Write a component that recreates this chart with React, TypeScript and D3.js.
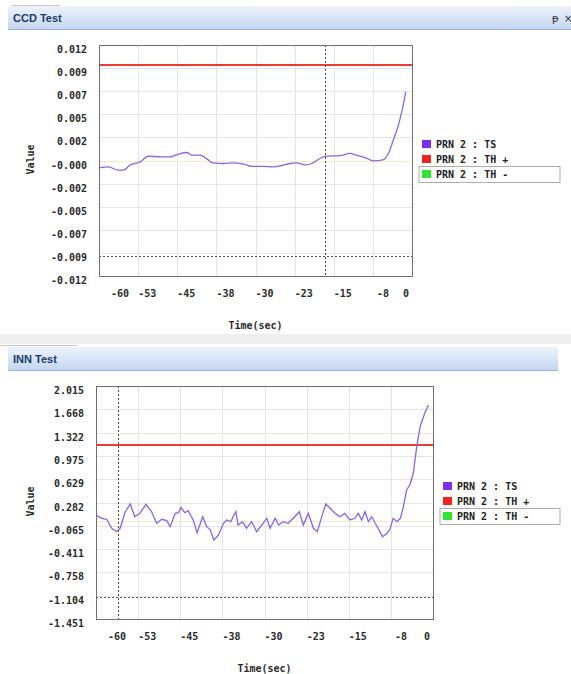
import React from "react";
import * as d3 from "d3";

// ---- CCD test series (time in seconds, test statistic) ----
const CCD_TIME = [-60, -58.2, -56.3, -55.3, -54.1, -52.1, -50.5, -48.3, -46.4, -44.8, -43.2, -42.2, -40.6, -39.4, -38.1, -36.2, -34.3, -32.3, -30.7, -28.5, -26.6, -25.0, -23.4, -22.1, -20.5, -19.2, -18.0, -16.4, -13.8, -11.9, -10.6, -9.0, -7.4, -5.8, -4.5, -3.6, -2.7, -1.9, -1.2];
const CCD_TS = [-0.00077, -0.00066, -0.001, -0.001, -0.00049, -0.00015, 0.00045, 0.00038, 0.00038, 0.00066, 0.00083, 0.00055, 0.00055, 0.0002, -0.00025, -0.00031, -0.00025, -0.00038, -0.0006, -0.0006, -0.00066, -0.00052, -0.00031, -0.00025, -0.00045, -0.00031, 0.0001, 0.00045, 0.0005, 0.00073, 0.00055, 0.00031, -0.00004, 0.00003, 0.00073, 0.0021, 0.0035, 0.0052, 0.0071];
const CCD_TH = 0.0099;
const CCD_CURSOR = -16.7;
const CCD_DOMAIN = [-0.012, 0.012];
const CCD_Y_LABELS = ["0.012", "0.009", "0.007", "0.005", "0.002", "-0.000", "-0.002", "-0.005", "-0.007", "-0.009", "-0.012"];

// ---- INN test series ----
const INN_TIME = [-60.0, -59.0, -58.1, -57.2, -56.3, -55.7, -54.8, -53.9, -53.1, -52.2, -51.1, -50.1, -49.2, -48.3, -47.4, -46.8, -45.9, -45.3, -44.9, -44.2, -43.6, -42.7, -42.0, -41.0, -40.3, -39.7, -39.0, -38.2, -37.3, -36.7, -36.0, -35.6, -35.1, -34.7, -33.9, -33.2, -32.3, -31.4, -30.5, -29.6, -29.0, -28.1, -27.5, -26.7, -25.8, -24.9, -23.8, -23.1, -22.2, -21.3, -20.6, -19.8, -19.1, -18.3, -17.4, -16.6, -15.7, -14.8, -13.9, -13.3, -12.7, -12.1, -11.5, -10.9, -10.3, -9.6, -9.0, -8.2, -7.7, -7.1, -6.4, -5.8, -5.3, -4.7, -4.1, -3.5, -2.9, -2.3, -1.4, -0.8];
const INN_TS = [0.096, 0.047, 0.032, -0.102, -0.152, -0.102, 0.145, 0.26, 0.071, 0.12, 0.255, 0.145, -0.027, 0.032, 0.012, -0.078, 0.12, 0.13, 0.21, 0.13, 0.16, 0.022, -0.167, 0.071, -0.078, -0.117, -0.276, -0.201, -0.027, 0.022, -0.003, 0.071, 0.145, -0.053, -0.003, -0.102, -0.003, -0.152, -0.053, 0.047, -0.102, 0.047, -0.053, -0.003, -0.027, 0.047, 0.145, -0.053, 0.12, -0.102, -0.152, 0.071, 0.26, 0.196, 0.12, 0.071, 0.12, 0.022, 0.047, 0.12, 0.022, 0.145, -0.003, 0.071, -0.027, -0.127, -0.226, -0.177, -0.127, 0.047, -0.003, 0.047, 0.21, 0.468, 0.55, 0.72, 1.11, 1.41, 1.63, 1.73];
const INN_TH = 1.13;
const INN_CURSOR = -56.1;
const INN_DOMAIN = [-1.451, 2.015];
const INN_Y_LABELS = ["2.015", "1.668", "1.322", "0.975", "0.629", "0.282", "-0.065", "-0.411", "-0.758", "-1.104", "-1.451"];

// ---- shared axis / legend text ----
const X_TICKS = [-60, -52.5, -45, -37.5, -30, -22.5, -15, -7.5, 0];
const X_LABELS = ["-60", "-53", "-45", "-38", "-30", "-23", "-15", "-8", "0"];
const LEGEND = ["PRN 2 : TS", "PRN 2 : TH +", "PRN 2 : TH -"];
const LEGEND_COLORS = ["#7b2ff2", "#f2231f", "#2fe62f"];

const MONO = "'DejaVu Sans Mono', 'Liberation Mono', monospace";

// snap a coordinate to a pixel centre so 1px rules stay crisp
const crisp = (v: number) => Math.round(v) + 0.5;

type PanelProps = {
  title: string;
  top: number; // y of the title bar
  barRight: number;
  box: { l: number; r: number; t: number; b: number };
  time: number[];
  values: number[];
  domain: number[];
  yLabels: string[];
  th: number;
  cursor: number;
  smooth: boolean;
  showIcons: boolean;
};

function Panel(p: PanelProps) {
  const { box } = p;
  const x = d3.scaleLinear().domain([-60, 0]).range([box.l, box.r]);
  const y = d3.scaleLinear().domain(p.domain).range([box.b, box.t]);
  const yTicks = p.yLabels.map((_, i) => p.domain[1] - (i * (p.domain[1] - p.domain[0])) / 10);
  const pts = p.time.map((t, i) => [t, p.values[i]] as [number, number]);
  const line = d3
    .line<[number, number]>()
    .x((d) => x(d[0]))
    .y((d) => y(d[1]))
    .curve(p.smooth ? d3.curveMonotoneX : d3.curveLinear);
  const midY = (box.t + box.b) / 2 - 1;
  const legX = box.r + 10;
  const thY = Math.round(y(p.th));

  return (
    <g>
      {/* title bar */}
      <rect x={8} y={p.top} width={p.barRight - 8} height={24} fill="url(#barGrad)" />
      <line x1={8} x2={p.barRight} y1={p.top + 23.5} y2={p.top + 23.5} stroke="#99b4dc" />
      <text x={13} y={p.top + 16} fontFamily="'Liberation Sans', Arial, sans-serif" fontWeight="bold" fontSize={11} fill="#1b3a6b">
        {p.title}
      </text>
      {p.showIcons && (
        <g fontFamily="'DejaVu Sans', sans-serif" fontSize={10} fill="#333">
          <text x={552} y={p.top + 16}>ᵽ</text>
          <text x={564} y={p.top + 16}>×</text>
        </g>
      )}

      {/* grid */}
      {X_TICKS.slice(1, -1).map((t) => (
        <line key={"gx" + t} x1={crisp(x(t))} x2={crisp(x(t))} y1={box.t} y2={box.b} stroke="#e4e4e4" />
      ))}
      {yTicks.slice(1, -1).map((v, i) => (
        <line key={"gy" + i} x1={box.l} x2={box.r} y1={crisp(y(v))} y2={crisp(y(v))} stroke="#e4e4e4" />
      ))}
      <line x1={box.l} x2={box.r} y1={crisp(y(0))} y2={crisp(y(0))} stroke="#f4ecc4" />

      {/* thresholds and cursor */}
      <line x1={box.l} x2={box.r} y1={thY} y2={thY} stroke="#ee3a36" strokeWidth={2} />
      <line x1={box.l} x2={box.r} y1={crisp(y(-p.th))} y2={crisp(y(-p.th))} stroke="#555" strokeDasharray="2,2" />
      <line x1={crisp(x(p.cursor))} x2={crisp(x(p.cursor))} y1={box.t} y2={box.b} stroke="#444" strokeDasharray="2,2" />

      {/* test statistic */}
      <path d={line(pts) ?? ""} fill="none" stroke="#8c63e6" strokeWidth={1.3} />

      {/* frame */}
      <rect x={box.l + 0.5} y={box.t + 0.5} width={box.r - box.l} height={box.b - box.t} fill="none" stroke="#6e6e6e" />

      {/* axis labels */}
      <g fontFamily={MONO} fontWeight="bold" fontSize={10} fill="#2a2a2a">
        {yTicks.map((v, i) => (
          <text key={"yl" + i} x={box.l - 12} y={y(v) + 8} textAnchor="end">
            {p.yLabels[i]}
          </text>
        ))}
        {X_TICKS.map((t, i) => {
          const last = i === X_TICKS.length - 1;
          const first = i === 0;
          const tx = first ? x(t) + 12 : last ? x(t) - 3 : i === X_TICKS.length - 2 ? x(t) + 4 : x(t);
          return (
            <text key={"xl" + i} x={tx} y={box.b + 21} textAnchor={last ? "end" : "start"}>
              {X_LABELS[i]}
            </text>
          );
        })}
        <text x={(box.l + box.r) / 2} y={box.b + 53} textAnchor="middle">
          Time(sec)
        </text>
        <text transform={`translate(34,${midY}) rotate(-90)`} textAnchor="middle">
          Value
        </text>
      </g>

      {/* legend */}
      <g fontFamily={MONO} fontWeight="bold" fontSize={10} fill="#222">
        {LEGEND.map((name, i) => {
          const cy = midY - 15 + i * 15;
          return (
            <g key={name}>
              <rect x={legX} y={cy - 4.5} width={9} height={8} fill={LEGEND_COLORS[i]} />
              <text x={legX + 14} y={cy + 3.5}>
                {name}
              </text>
            </g>
          );
        })}
        <rect x={legX - 3} y={midY + 15 - 8} width={560 - (legX - 3)} height={16} fill="none" stroke="#9a9a9a" strokeWidth={0.8} />
      </g>
    </g>
  );
}

export default function App() {
  return (
    <svg width={571} height={674} style={{ position: "absolute", left: 0, top: 0, background: "#fff" }}>
      <defs>
        <linearGradient id="barGrad" x1="0" y1="0" x2="0" y2="1">
          <stop offset="0" stopColor="#eef3fb" />
          <stop offset="1" stopColor="#c3d5f0" />
        </linearGradient>
      </defs>
      <rect width={571} height={674} fill="#fff" />
      <line x1={12} x2={60} y1={5.5} y2={5.5} stroke="#c8c8c8" />
      <rect x={0} y={334} width={571} height={10} fill="#efefef" />
      <line x1={0} x2={77} y1={345.5} y2={345.5} stroke="#c8c8c8" />
      <Panel
        title="CCD Test"
        top={6}
        barRight={571}
        box={{ l: 99, r: 412, t: 45, b: 276 }}
        time={CCD_TIME}
        values={CCD_TS}
        domain={CCD_DOMAIN}
        yLabels={CCD_Y_LABELS}
        th={CCD_TH}
        cursor={CCD_CURSOR}
        smooth={true}
        showIcons={true}
      />
      <Panel
        title="INN Test"
        top={347}
        barRight={558}
        box={{ l: 96, r: 433, t: 386, b: 619 }}
        time={INN_TIME}
        values={INN_TS}
        domain={INN_DOMAIN}
        yLabels={INN_Y_LABELS}
        th={INN_TH}
        cursor={INN_CURSOR}
        smooth={false}
        showIcons={false}
      />
    </svg>
  );
}
